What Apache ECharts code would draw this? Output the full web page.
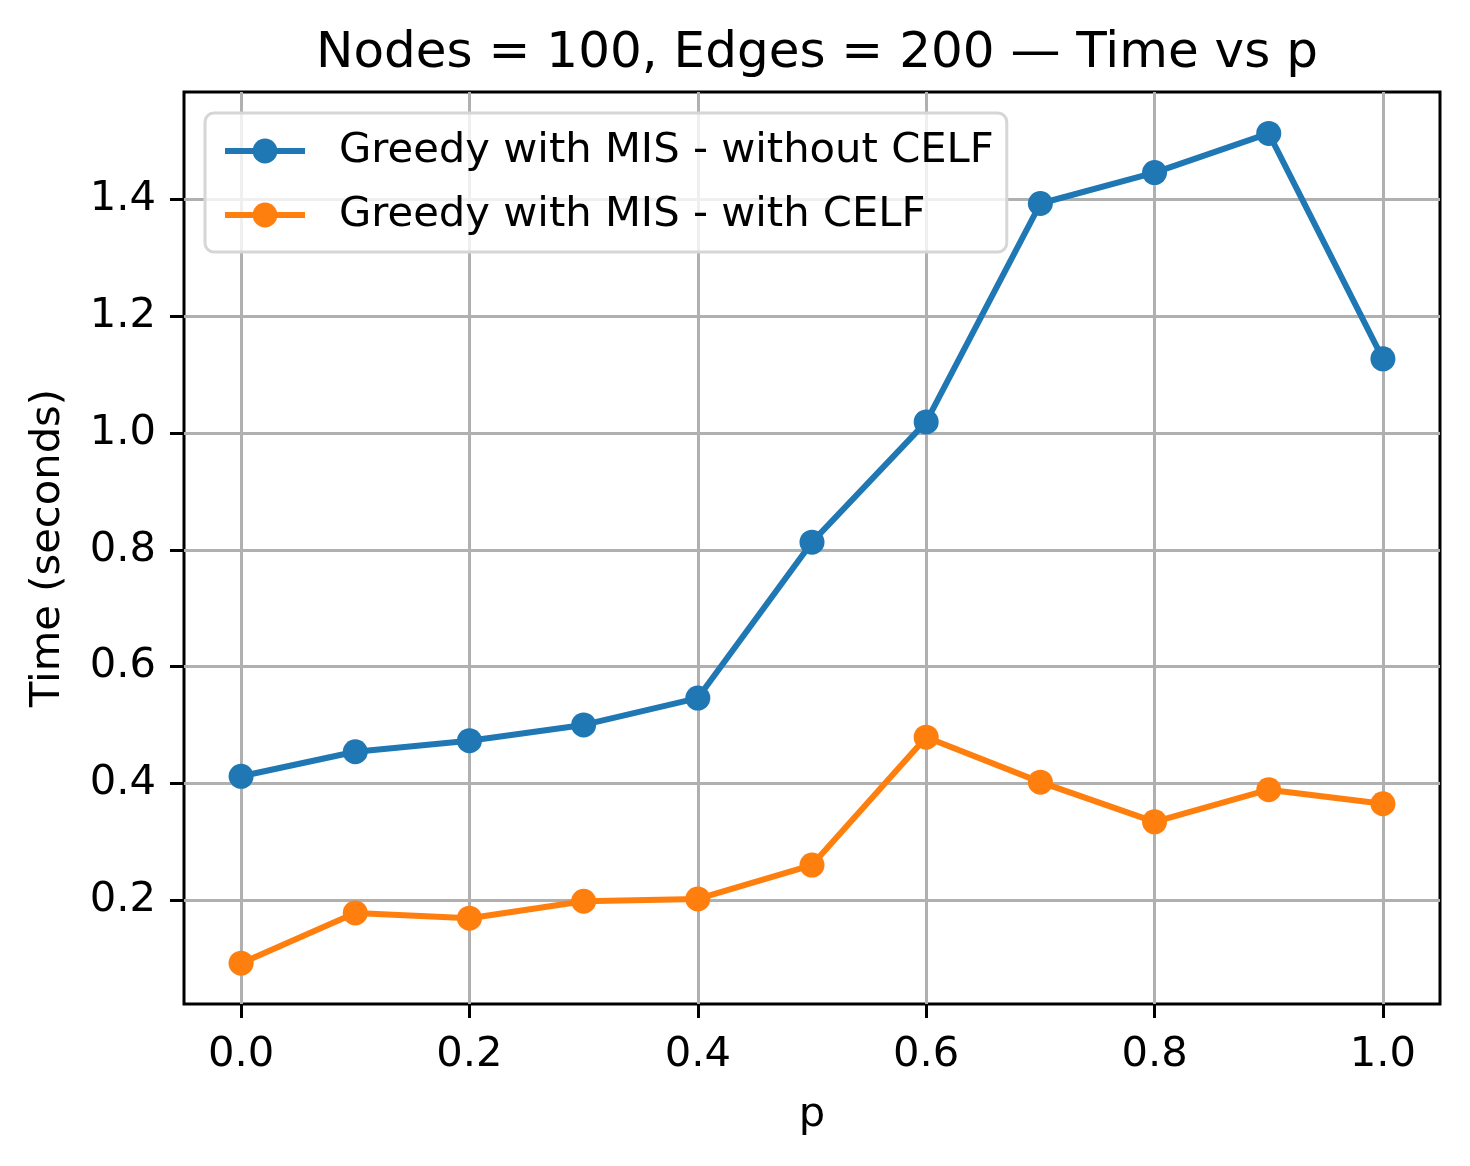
<!DOCTYPE html>
<html>
<head>
<meta charset="utf-8">
<script src="https://cdn.jsdelivr.net/npm/echarts@6/dist/echarts.min.js"></script>
<style>
html,body{margin:0;padding:0;background:#fff;}
#chart{width:1470px;height:1166px;}
</style>
</head>
<body>
<div id="chart"></div>
<script>
const pValues = [0.0, 0.1, 0.2, 0.3, 0.4, 0.5, 0.6, 0.7, 0.8, 0.9, 1.0];
const withoutCELF = [0.412, 0.454, 0.473, 0.500, 0.546, 0.813, 1.019, 1.393, 1.446, 1.513, 1.127];
const withCELF = [0.092, 0.178, 0.169, 0.198, 0.202, 0.260, 0.479, 0.402, 0.334, 0.389, 0.365];
const xTicks = [0.0, 0.2, 0.4, 0.6, 0.8, 1.0];
const yTicks = [0.2, 0.4, 0.6, 0.8, 1.0, 1.2, 1.4];
const seriesNames = ['Greedy with MIS - without CELF', 'Greedy with MIS - with CELF'];

const font = 'DejaVu Sans';
const chart = echarts.init(document.getElementById('chart'));
function pairs(ys){ return pValues.map((x,i)=>[x, ys[i]]); }
const gridLine = {show:true, lineStyle:{color:'#b0b0b0', width:3}};
chart.setOption({
  animation:false,
  backgroundColor:'#fff',
  title:{
    text:'Nodes = 100, Edges = 200 — Time vs p',
    left:812, textAlign:'center', top:24,
    textStyle:{fontFamily:font, fontSize:50, fontWeight:'normal', color:'#000'}
  },
  grid:{left:184, right:30, top:92, bottom:162, show:true, borderColor:'#000', borderWidth:3, backgroundColor:'transparent'},
  legend:{
    orient:'vertical', left:205, top:113,
    padding:[17,13,16,17],
    itemWidth:80, itemHeight:31, itemGap:22,
    backgroundColor:'rgba(255,255,255,0.8)',
    borderColor:'#d6d6d6', borderWidth:3, borderRadius:9,
    lineStyle:{width:6},
    textStyle:{fontFamily:font, fontSize:41.7, color:'#000', padding:[0,0,0,29]},
    data:seriesNames
  },
  xAxis:{
    type:'value', min:-0.05, max:1.05,
    name:'p', nameLocation:'middle', nameGap:90,
    nameTextStyle:{fontFamily:font, fontSize:41.7, color:'#000'},
    axisLine:{show:false, onZero:false},
    axisTick:{show:true, customValues:xTicks, length:14, inside:false, lineStyle:{color:'#000', width:3}},
    axisLabel:{customValues:xTicks, margin:30, fontFamily:font, fontSize:41.7, color:'#000',
      formatter:v=>v.toFixed(1)},
    splitLine:gridLine
  },
  yAxis:{
    type:'value', min:0.022, max:1.584,
    name:'Time (seconds)', nameLocation:'middle', nameGap:115, nameRotate:90,
    nameTextStyle:{fontFamily:font, fontSize:41.7, color:'#000'},
    axisLine:{show:false, onZero:false},
    axisTick:{show:true, customValues:yTicks, length:14, inside:false, lineStyle:{color:'#000', width:3}},
    axisLabel:{customValues:yTicks, margin:28, fontFamily:font, fontSize:41.7, color:'#000',
      formatter:v=>v.toFixed(1)},
    splitLine:gridLine
  },
  series:[
    {name:seriesNames[0], type:'line', data:pairs(withoutCELF), symbol:'circle', symbolSize:25,
      lineStyle:{color:'#1f77b4', width:6}, itemStyle:{color:'#1f77b4'}, z:3},
    {name:seriesNames[1], type:'line', data:pairs(withCELF), symbol:'circle', symbolSize:25,
      lineStyle:{color:'#ff7f0e', width:6}, itemStyle:{color:'#ff7f0e'}, z:3}
  ]
});
</script>
</body>
</html>
